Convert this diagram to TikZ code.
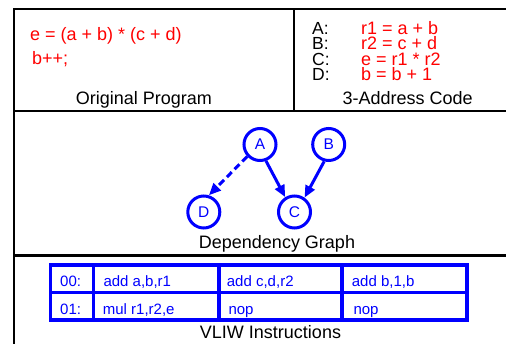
\documentclass[tikz,border=0pt]{standalone}
\usepackage{fontspec}
\setmainfont{Liberation Sans}
\usetikzlibrary{arrows.meta}
\definecolor{pblue}{RGB}{0,0,255}
\definecolor{pred}{RGB}{255,0,0}
\begin{document}
\begin{tikzpicture}[x=1pt,y=-1pt,
  frame/.style={line width=2.2pt, black},
  lbl/.style={font=\fontsize{18}{20}\selectfont, inner sep=0pt, anchor=base},
  code/.style={font=\fontsize{18}{20}\selectfont, text=pred, inner sep=0pt, anchor=base west},
  tight/.style={text height=12pt, text depth=0pt},
  tag/.style={font=\fontsize{17.5}{20}\selectfont, inner sep=0pt, anchor=base west},
  gnode/.style={circle, draw=pblue, line width=3pt, minimum size=32pt, inner sep=0pt, text=pblue, font=\fontsize{15.5}{16}\selectfont},
  dep/.style={pblue, line width=3pt, -{Triangle[length=12pt,width=10pt]}},
  cell/.style={draw=pblue, line width=3.5pt, inner sep=0pt, outer sep=0pt, rectangle, minimum height=27.5pt},
  ctext/.style={font=\fontsize{15}{16}\selectfont, text=pblue, inner sep=0pt, anchor=base west}
]
\useasboundingbox (0,0) rectangle (506,344);
% frame
\draw[frame] (13.7,344) -- (13.7,9.3) -- (506,9.3);
\draw[frame] (293.7,9.3) -- (293.7,111.2);
\draw[frame] (13.7,111.2) -- (506,111.2);
\draw[frame] (13.7,255.5) -- (506,255.5);
% original program
\node[code] (p1) at (30,41) {e = (a + b) * (c + d)};
\node[code] (p2) at (32,65) {b++;};
\node[lbl] (lop) at (144,105) {Original Program};
% 3-address code
\node[tag, tight] (ta) at (312,35) {A:};
\node[tag, tight] (tb) at (312,50) {B:};
\node[tag, tight] (tc) at (312,65.5) {C:};
\node[tag, tight] (td) at (312,81) {D:};
\node[code, tight] (ca) at (361,35) {r1 = a + b};
\node[code, tight] (cb) at (361,50) {r2 = c + d};
\node[code, tight] (cc) at (361,65.5) {e = r1 * r2};
\node[code, tight] (cd) at (361,81) {b = b + 1};
\node[lbl] (ltac) at (407.7,105) {3-Address Code};
% dependency graph
\node[gnode] (A) at (260,144.5) {A};
\node[gnode] (B) at (328.7,144.5) {B};
\node[gnode] (C) at (294.5,212) {C};
\node[gnode] (D) at (203.8,212) {D};
\draw[dep] (A.290) -- (C.122);
\draw[dep] (B.255) -- (C.55);
\draw[dep, dash pattern=on 7pt off 4pt] (A.223) -- (D.73);
\node[lbl] (ldg) at (277,249) {Dependency Graph};
% VLIW table
\node[cell, minimum width=43pt] (r0c0) at (72,278.75) {};
\node[cell, minimum width=125.5pt] (r0c1) at (156.25,278.75) {};
\node[cell, minimum width=123pt] (r0c2) at (280.5,278.75) {};
\node[cell, minimum width=125pt] (r0c3) at (404.5,278.75) {};
\node[cell, minimum width=43pt] (r1c0) at (72,306.25) {};
\node[cell, minimum width=125.5pt] (r1c1) at (156.25,306.25) {};
\node[cell, minimum width=123pt] (r1c2) at (280.5,306.25) {};
\node[cell, minimum width=125pt] (r1c3) at (404.5,306.25) {};
\node[ctext] (t00) at (60,287) {00:};
\node[ctext] (t01) at (103.3,287) {add a,b,r1};
\node[ctext] (t02) at (226.7,287) {add c,d,r2};
\node[ctext] (t03) at (351.7,287) {add b,1,b};
\node[ctext] (t10) at (60,315) {01:};
\node[ctext] (t11) at (102.7,315) {mul r1,r2,e};
\node[ctext] (t12) at (228.3,315) {nop};
\node[ctext] (t13) at (353.3,315) {nop};
\node[lbl] (lvliw) at (270.5,339) {VLIW Instructions};
\end{tikzpicture}
\end{document}
